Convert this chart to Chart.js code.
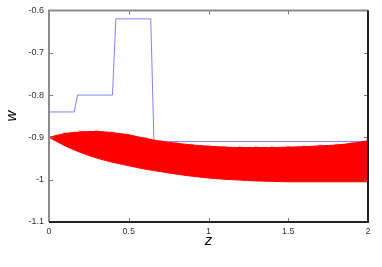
<!DOCTYPE html>
<html>
<head>
<meta charset="utf-8">
<script src="https://cdn.jsdelivr.net/npm/chart.js@4/dist/chart.umd.min.js"></script>
<style>
  html, body { margin: 0; padding: 0; background: #fff; }
  #wrap { width: 382px; height: 267px; }
</style>
</head>
<body>
<div id="wrap"><canvas id="wChart"></canvas></div>
<script>
// step curve (blue)
const stepZ = [0, 0.158, 0.179, 0.398, 0.419, 0.638, 0.658, 2];
const stepW = [-0.84, -0.84, -0.80, -0.80, -0.62, -0.62, -0.91, -0.91];

// red band
const bandZ = [0, 0.1, 0.2, 0.3, 0.4, 0.5, 0.6, 0.7, 0.8, 0.9, 1.0,
               1.1, 1.2, 1.3, 1.4, 1.5, 1.6, 1.7, 1.8, 1.9, 2.0];
const bandUpper = [-0.900, -0.891, -0.887, -0.886, -0.889, -0.894, -0.902, -0.909, -0.914, -0.918, -0.921,
                   -0.923, -0.924, -0.924, -0.924, -0.923, -0.922, -0.920, -0.918, -0.914, -0.908];
const bandLower = [-0.900, -0.920, -0.936, -0.949, -0.959, -0.967, -0.975, -0.981, -0.987, -0.992, -0.996,
                   -0.999, -1.001, -1.003, -1.004, -1.005, -1.005, -1.005, -1.005, -1.005, -1.005];

const xTicks = [0, 0.5, 1, 1.5, 2];
const yTicks = [-1.1, -1, -0.9, -0.8, -0.7, -0.6];

const toPts = (xs, ys) => xs.map((x, i) => ({x: x, y: ys[i]}));

// gnuplot-like frame with inward ticks
const frame = {
    id: 'frame',
    afterDraw(chart) {
        const ctx = chart.ctx;
        const a = chart.chartArea;
        const sx = chart.scales.x, sy = chart.scales.y;
        ctx.save();
        ctx.lineWidth = 1;
        ctx.strokeStyle = '#777';
        ctx.beginPath();
        xTicks.forEach(v => {
            const px = Math.round(sx.getPixelForValue(v)) + 0.5;
            ctx.moveTo(px, a.bottom); ctx.lineTo(px, a.bottom - 4);
            ctx.moveTo(px, a.top); ctx.lineTo(px, a.top + 4);
        });
        yTicks.forEach(v => {
            const py = Math.round(sy.getPixelForValue(v)) + 0.5;
            ctx.moveTo(a.left, py); ctx.lineTo(a.left + 4, py);
            ctx.moveTo(a.right, py); ctx.lineTo(a.right - 4, py);
        });
        ctx.stroke();
        ctx.lineWidth = 2;
        ctx.strokeStyle = '#8c8c8c';
        ctx.beginPath();
        ctx.moveTo(a.left, a.bottom); ctx.lineTo(a.left, a.top); ctx.lineTo(a.right, a.top);
        ctx.stroke();
        ctx.strokeStyle = '#222';
        ctx.beginPath();
        ctx.moveTo(a.left, a.bottom); ctx.lineTo(a.right, a.bottom); ctx.lineTo(a.right, a.top);
        ctx.stroke();
        ctx.restore();
    }
};

new Chart(document.getElementById('wChart'), {
    type: 'line',
    data: {
        datasets: [
            {
                label: 'upper',
                data: toPts(bandZ, bandUpper),
                borderColor: '#ff0000',
                borderWidth: 1,
                pointStyle: 'crossRot',
                pointRadius: 2,
                pointBorderColor: 'rgba(255,0,0,0.6)',
                cubicInterpolationMode: 'monotone',
                fill: false
            },
            {
                label: 'lower',
                data: toPts(bandZ, bandLower),
                borderColor: '#ff0000',
                backgroundColor: '#ff0000',
                borderWidth: 1,
                pointRadius: 0,
                cubicInterpolationMode: 'monotone',
                fill: '-1'
            },
            {
                label: 'step',
                data: toPts(stepZ, stepW),
                borderColor: '#8080ff',
                borderWidth: 1,
                pointRadius: 0,
                fill: false
            }
        ]
    },
    options: {
        responsive: true,
        maintainAspectRatio: false,
        animation: false,
        layout: { padding: { top: 9, right: 14, left: 0, bottom: 0 } },
        plugins: { legend: { display: false }, tooltip: { enabled: false } },
        scales: {
            x: {
                type: 'linear',
                min: 0,
                max: 2,
                afterBuildTicks: s => { s.ticks = xTicks.map(v => ({value: v})); },
                afterFit: s => { s.height = 45; },
                grid: { display: false, drawTicks: false },
                border: { display: false },
                ticks: {
                    padding: 4,
                    maxRotation: 0,
                    color: '#333',
                    font: { family: 'Liberation Sans', size: 9 },
                    callback: v => String(v)
                },
                title: {
                    display: true,
                    text: 'z',
                    color: '#000',
                    font: { family: 'Liberation Sans', size: 15, style: 'italic' },
                    padding: { top: 0, bottom: 17 }
                }
            },
            y: {
                type: 'linear',
                min: -1.1,
                max: -0.6,
                afterBuildTicks: s => { s.ticks = yTicks.map(v => ({value: v})); },
                afterFit: s => { s.width = 49; },
                grid: { display: false, drawTicks: false },
                border: { display: false },
                ticks: {
                    padding: 5,
                    color: '#333',
                    font: { family: 'Liberation Sans', size: 9 },
                    callback: v => String(v)
                },
                title: {
                    display: true,
                    text: 'w',
                    color: '#000',
                    font: { family: 'Liberation Sans', size: 15, style: 'italic' },
                    padding: { top: 3, bottom: 0 }
                }
            }
        }
    },
    plugins: [frame]
});
</script>
</body>
</html>
